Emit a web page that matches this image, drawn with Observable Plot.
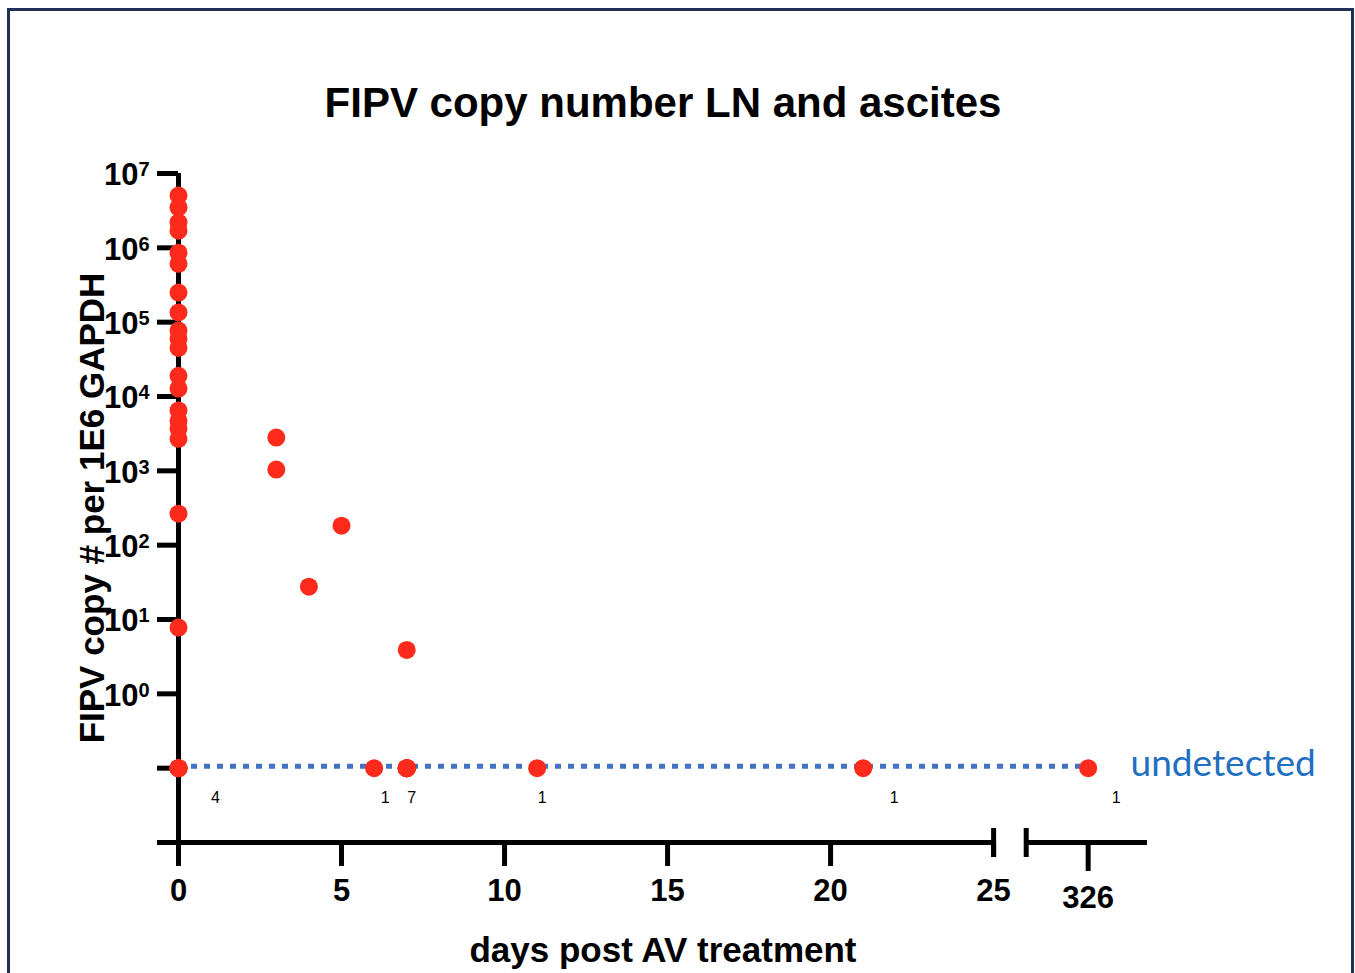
<!DOCTYPE html>
<html>
<head>
<meta charset="utf-8">
<script src="https://cdn.jsdelivr.net/npm/d3@7"></script>
<script src="https://cdn.jsdelivr.net/npm/@observablehq/plot@0.6"></script>
<style>
  html, body { margin: 0; padding: 0; background: #fff; overflow: hidden; }
  #frame { position: absolute; left: 7px; top: 8px; width: 1347px; height: 1000px;
           border: 3px solid #1e2f58; box-sizing: border-box; }
  #chart { position: absolute; left: 0; top: 0; }
</style>
</head>
<body>
<div id="frame"></div>
<div id="chart"></div>
<script>
// ---- data ----
const titleText = "FIPV copy number LN and ascites";
const xLabel = "days post AV treatment";
const yLabel = "FIPV copy # per 1E6 GAPDH";

// day 0 measured copies (detected)
const day0Copies = [5.06e6, 3.5e6, 2.2e6, 1.7e6, 8.6e5, 6.1e5, 2.5e5, 1.35e5, 7.7e4, 6.0e4,
                    4.5e4, 1.9e4, 1.28e4, 6.5e3, 4.7e3, 3.7e3, 2.7e3, 265, 7.8];
// later detected samples
const laterDays = [3, 3, 4, 5, 7];
const laterCopies = [2800, 1040, 27.6, 183, 3.9];
// undetected samples: day and number of samples
const undetectedDays = [0, 6, 7, 11, 21, 326];
const undetectedCounts = [4, 1, 7, 1, 1, 1];
const undetectedLevel = 0.1;   // plotted position for "undetected"

const xTicksLeft = [0, 5, 10, 15, 20];
const xTickBreak = 25;
const xTickFar = 326;
const yTicks = [1e0, 1e1, 1e2, 1e3, 1e4, 1e5, 1e6, 1e7];

// ---- broken x axis mapping ----
const breakAt = 25, resumeGap = 1, resumeDay = 326, resumePos = 27.9, axisEnd = 29.72;
const pos = d => d > breakAt ? resumePos + (d - resumeDay) : d;

const points = [
  ...day0Copies.map(v => ({day: 0, copies: v})),
  ...laterDays.map((d, i) => ({day: d, copies: laterCopies[i]})),
  ...undetectedDays.flatMap((d, i) => d3.range(undetectedCounts[i]).map(() => ({day: d, copies: undetectedLevel})))
];

const expFmt = v => "10|" + Math.round(Math.log10(v));

const countNudge = [37, 11, 5, 5, 31, 28];
const red = "#fe2a1b";
const axisStyle = {strokeWidth: 5, fontWeight: "bold", fill: "black", stroke: "black", label: null};

const chart = Plot.plot({
  width: 1355,
  height: 973,
  marginLeft: 178,
  marginRight: 208,
  marginTop: 173,
  marginBottom: 131,
  x: {domain: [0, axisEnd], axis: null, label: null},
  y: {type: "log", domain: [0.01, 1e7], axis: null, label: null},
  style: {fontFamily: "'Liberation Sans', Arial, sans-serif", color: "black", background: "transparent", overflow: "visible"},
  marks: [
    // y axis line
    Plot.ruleX([0], {y1: 0.01, y2: 1e7, strokeWidth: 5, stroke: "black"}),
    // y axis ticks
    Plot.axisY(yTicks, {tickSize: 21, tickPadding: 8, fontSize: 31, tickFormat: expFmt, ...axisStyle}),
    Plot.axisY([undetectedLevel], {tickSize: 21, tickFormat: () => "", ...axisStyle}),
    // x axis line (two segments for the break)
    Plot.ruleY([0.01], {x1: 0, x2: breakAt, insetLeft: -21, strokeWidth: 5, stroke: "black"}),
    Plot.ruleY([0.01], {x1: breakAt + resumeGap, x2: axisEnd, strokeWidth: 5, stroke: "black"}),
    // break marks
    Plot.ruleX([breakAt, breakAt + resumeGap], {y1: 0.01, y2: 0.01, insetTop: -14, insetBottom: -15, strokeWidth: 5, stroke: "black"}),
    // x ticks
    Plot.axisX(xTicksLeft, {tickSize: 24, tickPadding: 12, fontSize: 31, ...axisStyle}),
    Plot.axisX([xTickBreak], {tickSize: 15, tickPadding: 21, fontSize: 31, ...axisStyle}),
    Plot.axisX([pos(xTickFar)], {tickSize: 29, tickPadding: 14, fontSize: 31, tickFormat: () => String(xTickFar), ...axisStyle}),
    // undetected line
    Plot.ruleY([undetectedLevel], {x1: 0, x2: 28.28, dy: -2, stroke: "#4472c4", strokeWidth: 5, strokeDasharray: "6,7"}),
    Plot.text(["undetected"], {x: () => 29.2, y: () => undetectedLevel, text: d => d, textAnchor: "start",
      dy: -4, fontSize: 37, fill: "#1f6fc1", fontFamily: "Lato, 'Open Sans', sans-serif"}),
    // points
    Plot.dot(points, {x: d => pos(d.day), y: "copies", r: 9, fill: red, stroke: "none"}),
    // counts of undetected
    ...undetectedDays.map((d, i) => Plot.text([i], {x: () => pos(d), y: () => undetectedLevel, text: () => String(undetectedCounts[i]),
      dx: countNudge[i], dy: 30, fontSize: 16, fill: "black"})),
    // titles
    Plot.text([titleText], {frameAnchor: "top", lineAnchor: "middle", textAnchor: "middle", dy: -70, text: d => d, fontSize: 42, fontWeight: "bold", fill: "black"}),
    Plot.text([xLabel], {frameAnchor: "bottom", lineAnchor: "middle", textAnchor: "middle", dy: 108, text: d => d, fontSize: 35, fontWeight: "bold", fill: "black"}),
    Plot.text([yLabel], {frameAnchor: "left", lineAnchor: "middle", textAnchor: "middle", dx: -86, rotate: -90, text: d => d, fontSize: 35, fontWeight: "bold", fill: "black"})
  ]
});

// render exponents of y tick labels as superscripts
d3.select(chart).selectAll("text").each(function () {
  const t = this.textContent;
  const m = /^10\|(-?\d+)$/.exec(t);
  if (!m) return;
  const sel = d3.select(this);
  sel.text(null);
  sel.append("tspan").attr("dy", "0.06em").text("10");
  sel.append("tspan").attr("dy", "-0.45em").attr("font-size", "20px").text(m[1]);
});

document.getElementById("chart").appendChild(chart);
</script>
</body>
</html>
